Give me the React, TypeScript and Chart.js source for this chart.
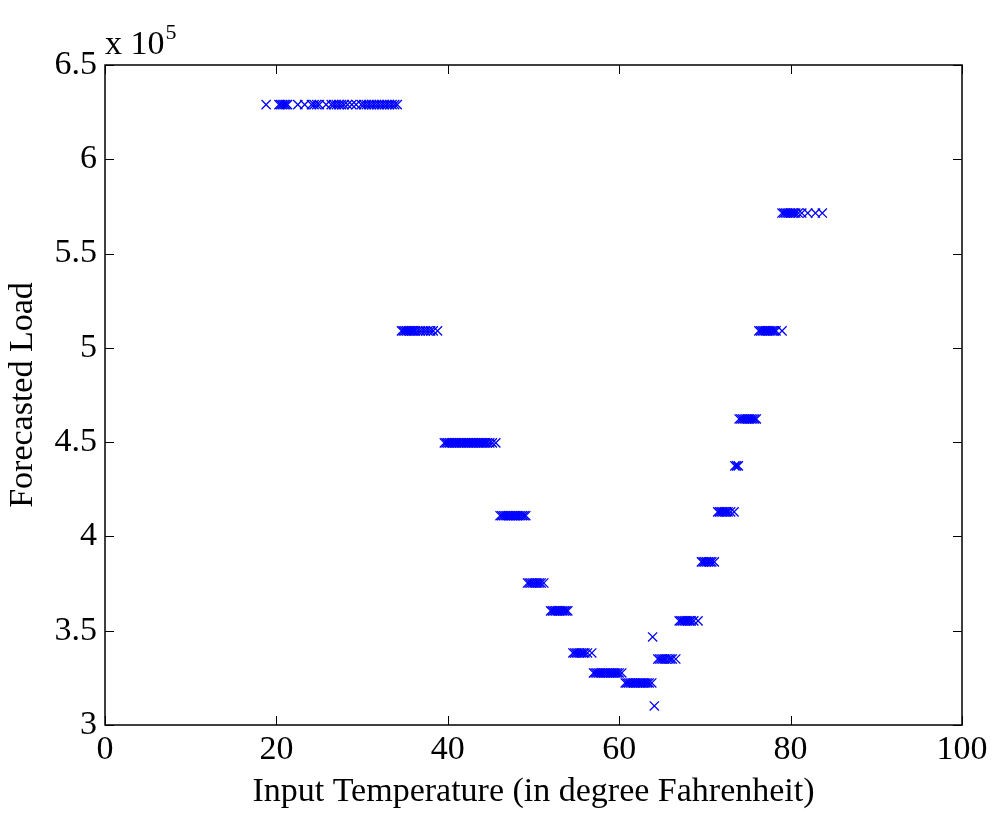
import React, { useEffect, useRef } from "react";
import { Chart, registerables } from "chart.js";

Chart.register(...registerables);

// Forecasted load levels (x 10^5) and the input temperatures that map to each level
const loadLevels: number[] = [
  6.29, 5.09, 4.496, 4.11, 3.753, 3.605, 3.382, 3.276, 3.223, 3.467, 3.101,
  3.35, 3.552, 3.865, 4.13, 4.374, 4.623, 5.09, 5.715,
];

const tempsByLevel: number[][] = [
  [18.8, 20.3, 20.5, 20.7, 20.9, 21.1, 21.3, 22.5, 23.3, 24.1, 24.4, 24.7, 25.0, 25.8, 26.4, 26.7, 27.0, 27.3, 27.6, 27.9, 28.3, 28.8, 29.3, 29.9, 30.2, 30.5, 30.8, 31.1, 31.4, 31.7, 32.0, 32.3, 32.6, 32.9, 33.2, 33.5, 33.8, 34.1],
  [34.6, 34.8, 35.0, 35.2, 35.4, 35.6, 35.8, 36.0, 36.2, 36.5, 36.8, 37.1, 37.4, 37.7, 38.0, 38.3, 38.8],
  [39.6, 39.8, 40.0, 40.2, 40.4, 40.6, 40.8, 41.0, 41.2, 41.4, 41.6, 41.8, 42.0, 42.2, 42.4, 42.6, 42.8, 43.0, 43.2, 43.4, 43.6, 43.8, 44.0, 44.2, 44.4, 44.6, 44.9, 45.2, 45.6],
  [46.1, 46.3, 46.5, 46.7, 46.9, 47.1, 47.3, 47.5, 47.7, 47.9, 48.1, 48.3, 48.5, 48.7, 48.9, 49.1],
  [49.3, 49.5, 49.7, 49.9, 50.1, 50.3, 50.5, 50.7, 50.9, 51.2],
  [52.0, 52.2, 52.4, 52.6, 52.8, 53.0, 53.2, 53.4, 53.6, 53.8, 54.0],
  [54.6, 54.8, 55.0, 55.2, 55.4, 55.6, 55.8, 56.0, 56.3, 56.8],
  [57.0, 57.2, 57.4, 57.6, 57.8, 58.0, 58.2, 58.4, 58.6, 58.8, 59.0, 59.2, 59.4, 59.6, 59.8, 60.0, 60.3],
  [60.7, 60.9, 61.1, 61.3, 61.5, 61.7, 61.9, 62.1, 62.3, 62.5, 62.7, 62.9, 63.1, 63.3, 63.5, 63.8],
  [63.9],
  [64.1],
  [64.5, 64.7, 64.9, 65.1, 65.3, 65.5, 65.8, 66.0, 66.2, 66.6],
  [67.0, 67.2, 67.4, 67.6, 67.8, 68.0, 68.2, 68.4, 68.7, 69.2],
  [69.6, 69.8, 70.0, 70.2, 70.4, 70.6, 70.8, 71.1],
  [71.5, 71.7, 71.9, 72.1, 72.3, 72.5, 72.7, 73.0, 73.4],
  [73.5, 73.7, 73.9],
  [74.0, 74.2, 74.4, 74.6, 74.8, 75.0, 75.2, 75.4, 75.6, 75.8, 76.0],
  [76.3, 76.5, 76.7, 76.9, 77.1, 77.3, 77.5, 77.7, 77.9, 78.1, 78.3, 79.0],
  [79.0, 79.2, 79.4, 79.6, 79.8, 80.0, 80.2, 80.4, 80.6, 80.9, 81.3, 82.0, 82.9, 83.7],
];

const xTicks: number[] = [0, 20, 40, 60, 80, 100];
const yTicks: number[] = [3, 3.5, 4, 4.5, 5, 5.5, 6, 6.5];

const FONT = "'Liberation Serif', 'Times New Roman', serif";
const FS = 34;

const boxPlugin = {
  id: "matlabBox",
  afterDraw(chart: any) {
    const { ctx, chartArea: a, scales } = chart;
    const xs = scales.x;
    const ys = scales.y;
    const tl = 9;
    ctx.save();
    ctx.strokeStyle = "#000";
    ctx.lineWidth = 1;
    ctx.beginPath();
    xs.ticks.forEach((t: any) => {
      const px = Math.round(xs.getPixelForValue(t.value)) + 0.5;
      ctx.moveTo(px, a.bottom);
      ctx.lineTo(px, a.bottom - tl);
      ctx.moveTo(px, a.top);
      ctx.lineTo(px, a.top + tl);
    });
    ys.ticks.forEach((t: any) => {
      const py = Math.round(ys.getPixelForValue(t.value)) + 0.5;
      ctx.moveTo(a.left, py);
      ctx.lineTo(a.left + tl, py);
      ctx.moveTo(a.right, py);
      ctx.lineTo(a.right - tl, py);
    });
    ctx.stroke();
    ctx.lineWidth = 1.5;
    ctx.strokeRect(a.left, a.top, a.right - a.left, a.bottom - a.top);
    // exponent label
    ctx.fillStyle = "#000";
    ctx.textBaseline = "alphabetic";
    ctx.textAlign = "left";
    ctx.font = `${FS}px ${FONT}`;
    ctx.fillText("x 10", a.left, a.top - 11);
    const w = ctx.measureText("x 10").width;
    ctx.font = `22px ${FONT}`;
    ctx.fillText("5", a.left + w + 1, a.top - 26);
    ctx.restore();
  },
};

export default function App() {
  const ref = useRef<HTMLCanvasElement | null>(null);

  useEffect(() => {
    document.body.style.margin = "0";
    const points: { x: number; y: number }[] = [];
    tempsByLevel.forEach((temps, i) => {
      temps.forEach((t) => points.push({ x: t, y: loadLevels[i] * 1e5 }));
    });
    const chart = new Chart(ref.current as HTMLCanvasElement, {
      type: "scatter",
      data: {
        datasets: [
          {
            data: points,
            pointStyle: "crossRot",
            pointRadius: 6.5,
            pointHoverRadius: 6.5,
            borderColor: "#0000ff",
            backgroundColor: "#0000ff",
            pointBorderWidth: 1.3,
            borderWidth: 1.3,
          },
        ],
      },
      options: {
        animation: false,
        responsive: false,
        events: [],
        layout: { padding: { left: 0, top: 65, right: 35, bottom: 0 } },
        plugins: { legend: { display: false }, tooltip: { enabled: false } },
        scales: {
          x: {
            type: "linear",
            min: 0,
            max: 100,
            afterBuildTicks: (s: any) => {
              s.ticks = xTicks.map((v) => ({ value: v }));
            },
            afterFit: (s: any) => {
              s.height = 90;
            },
            grid: { display: false, drawTicks: false },
            border: { display: false },
            ticks: {
              color: "#000",
              padding: 5,
              maxRotation: 0,
              font: { family: FONT, size: FS },
            },
            title: {
              display: true,
              text: "Input Temperature (in degree Fahrenheit)",
              color: "#000",
              font: { family: FONT, size: FS },
              padding: { top: 0, bottom: 3 },
            },
          },
          y: {
            type: "linear",
            min: 3e5,
            max: 6.5e5,
            afterBuildTicks: (s: any) => {
              s.ticks = yTicks.map((v) => ({ value: v * 1e5 }));
            },
            afterFit: (s: any) => {
              s.width = 105;
            },
            grid: { display: false, drawTicks: false },
            border: { display: false },
            ticks: {
              color: "#000",
              padding: 8,
              font: { family: FONT, size: FS },
              callback: (v: any) => String(Math.round((Number(v) / 1e5) * 10) / 10),
            },
            title: {
              display: true,
              text: "Forecasted Load",
              color: "#000",
              font: { family: FONT, size: FS },
              padding: { top: 3, bottom: 0 },
            },
          },
        },
      },
      plugins: [boxPlugin],
    });
    return () => chart.destroy();
  }, []);

  return <canvas ref={ref} width={997} height={815} style={{ display: "block" }} />;
}
